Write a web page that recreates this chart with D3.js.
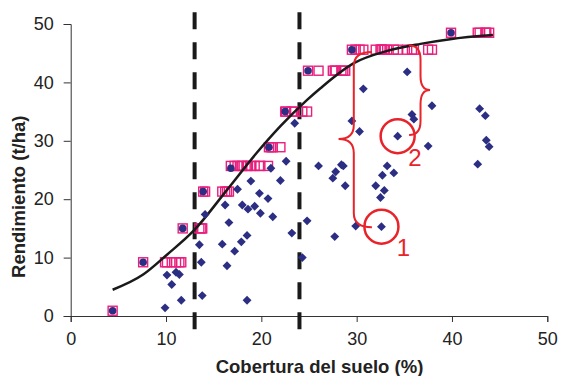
<!DOCTYPE html>
<html>
<head>
<meta charset="utf-8">
<script src="https://cdn.jsdelivr.net/npm/d3@7"></script>
<style>
  body { margin: 0; background: #fff; }
  text { font-family: Arial, "Liberation Sans", sans-serif; }
</style>
</head>
<body>
<svg id="chart"></svg>
<script>
// observed plots (diamonds)
const observed = [
  [9.9, 1.4], [10.1, 7.0], [10.6, 5.4], [11.05, 7.5], [11.4, 7.1], [11.6, 2.7],
  [13.5, 12.2], [13.7, 9.2], [13.8, 3.5], [14.1, 17.4], [16.2, 19.0], [16.6, 16.0],
  [15.9, 12.3], [16.4, 8.6], [17.2, 11.1], [17.9, 12.7], [18.5, 13.8], [17.5, 21.7],
  [18.9, 23.1], [18.0, 19.0], [18.6, 18.3], [19.3, 18.8], [19.8, 21.0], [19.9, 17.6],
  [20.7, 20.1], [21.0, 25.3], [21.2, 17.0], [22.0, 23.2], [22.6, 26.5], [18.5, 2.7],
  [23.2, 14.2], [23.5, 33.0], [24.8, 16.3], [24.3, 10.0], [26.0, 25.7], [28.4, 25.9],
  [28.6, 25.7], [27.8, 24.7], [27.5, 23.6], [28.8, 22.3], [33.2, 25.7], [32.7, 24.1],
  [33.9, 24.5], [32.0, 22.3], [32.9, 21.5], [32.5, 20.3], [29.9, 15.4], [32.6, 15.3],
  [27.7, 13.6], [42.7, 26.0], [42.9, 35.5], [43.5, 34.3], [43.6, 30.1], [43.9, 29.0],
  [35.3, 41.8], [30.7, 38.9], [37.9, 36.0], [35.8, 34.5], [36.0, 33.7], [29.5, 33.4],
  [30.3, 31.6], [34.3, 30.8], [37.5, 29.1]
];

// boundary plots (filled circles)
const boundary = [
  [4.4, 0.9], [7.6, 9.2], [11.75, 15.0], [13.9, 21.3], [16.8, 25.3],
  [20.8, 28.9], [22.5, 35.0], [24.9, 42.0], [29.5, 45.6], [39.9, 48.5]
];

// projected plots (open squares), one row per level
const projLevels = [0.9, 9.2, 15.0, 21.3, 25.7, 28.9, 35.0, 42.0, 45.6, 48.5];
const projX = [
  [4.4],
  [7.6, 9.9, 10.1, 10.6, 11.05, 11.4, 11.6],
  [11.75, 13.5, 13.7, 13.8],
  [13.9, 14.1, 15.9, 16.2, 16.4, 16.6],
  [16.8, 17.2, 17.5, 17.9, 18.0, 18.5, 18.6, 18.9, 19.3, 19.8, 19.9, 20.7],
  [20.8, 21.0, 21.2, 22.0],
  [22.5, 22.6, 23.2, 23.5, 24.3, 24.8],
  [24.9, 26.0, 27.5, 27.7, 27.8, 28.4, 28.6, 28.8],
  [29.5, 29.9, 30.3, 30.7, 32.0, 32.5, 32.6, 32.7, 32.9, 33.2, 33.9, 34.3, 35.3, 35.8, 36.0, 37.5, 37.9],
  [39.9, 42.7, 42.9, 43.5, 43.6, 43.9]
];

// boundary line
const boundaryLine = [
  [4.4, 4.5], [7.6, 7.1], [10.1, 10.5], [12.9, 14.6], [16.4, 21.6], [19.5, 27.9],
  [22.0, 32.5], [24.8, 37.0], [26.2, 39.0], [29.7, 43.3], [33.2, 45.4],
  [36.7, 46.6], [39.8, 47.4], [44.3, 48.1]
];

const vLines = [13, 24];
const xTicks = [0, 10, 20, 30, 40, 50];
const yTicks = [0, 10, 20, 30, 40, 50];

// annotations: circled points and braces (data units)
const marked = [
  { label: "1", x: 32.6, y: 15.3, lx: 34.9, ly: 10.3 },
  { label: "2", x: 34.3, y: 30.8, lx: 36.1, ly: 25.7 }
];
const braces = [
  { x: 29.7, end: 31.6, tip: 28.1, top: 45.2, bottom: 15.2, mid: 30.3 },
  { x: 36.7, end: 35.5, tip: 37.7, top: 46.3, bottom: 31.0, mid: 38.7 }
];

const width = 565, height = 376;
const navy = "#2b2e83", pink = "#ea1f7d", red = "#e8232a";

const svg = d3.select("#chart").attr("width", width).attr("height", height);

const x = d3.scaleLinear().domain([0, 50]).range([70.7, 547.3]);
const y = d3.scaleLinear().domain([0, 50]).range([316, 24]);

// axes
svg.append("g")
  .attr("transform", "translate(0," + y(0) + ")")
  .call(d3.axisBottom(x).tickValues(xTicks).tickSize(6).tickPadding(10))
  .call(g => g.selectAll("text").style("font-size", "18px").attr("fill", "#222"))
  .call(g => g.selectAll("line,path").attr("stroke", "#333"));

svg.append("g")
  .attr("transform", "translate(" + x(0) + ",0)")
  .call(d3.axisLeft(y).tickValues(yTicks).tickSize(7).tickPadding(10))
  .call(g => g.selectAll("text").style("font-size", "18px").attr("fill", "#222"))
  .call(g => g.selectAll("line,path").attr("stroke", "#333"));

// dashed verticals
svg.selectAll(".vline")
  .data(vLines)
  .enter()
  .append("line")
  .attr("x1", d => x(d)).attr("x2", d => x(d))
  .attr("y1", y(52)).attr("y2", y(-2.9))
  .attr("stroke", "#1a1a1a")
  .attr("stroke-width", 4)
  .attr("stroke-dasharray", "17,13");

// projected squares
const squares = [];
projX.forEach((row, i) => row.forEach(v => squares.push([v, projLevels[i]])));
svg.selectAll(".sq")
  .data(squares)
  .enter()
  .append("rect")
  .attr("x", d => x(d[0]) - 4.5)
  .attr("y", d => y(d[1]) - 4.5)
  .attr("width", 9).attr("height", 9)
  .attr("fill", "none")
  .attr("stroke", pink)
  .attr("stroke-width", 1.4);

// boundary line
svg.append("path")
  .datum(boundaryLine)
  .attr("d", d3.line().x(d => x(d[0])).y(d => y(d[1])).curve(d3.curveMonotoneX))
  .attr("fill", "none")
  .attr("stroke", "#1a1a1a")
  .attr("stroke-width", 2.5);

// observed diamonds
svg.selectAll(".dia")
  .data(observed)
  .enter()
  .append("path")
  .attr("d", d3.symbol(d3.symbolDiamond2, 50))
  .attr("transform", d => "translate(" + x(d[0]) + "," + y(d[1]) + ")")
  .attr("fill", navy);

// boundary circles
svg.selectAll(".dot")
  .data(boundary)
  .enter()
  .append("circle")
  .attr("cx", d => x(d[0]))
  .attr("cy", d => y(d[1]))
  .attr("r", 3.8)
  .attr("fill", navy);

// red braces
const bracePath = b => {
  const xl = x(b.x), xe = x(b.end), xt = x(b.tip);
  const yt = y(b.top), yb = y(b.bottom), ym = y(b.mid), r = 14;
  return "M" + xe + "," + yt +
    " Q" + xl + "," + yt + " " + xl + "," + (yt + r) +
    " L" + xl + "," + (ym - r) +
    " Q" + xl + "," + ym + " " + xt + "," + ym +
    " Q" + xl + "," + ym + " " + xl + "," + (ym + r) +
    " L" + xl + "," + (yb - r) +
    " Q" + xl + "," + yb + " " + xe + "," + yb;
};
svg.selectAll(".brace")
  .data(braces)
  .enter()
  .append("path")
  .attr("d", bracePath)
  .attr("fill", "none")
  .attr("stroke", red)
  .attr("stroke-width", 2);

// circled points with labels
svg.selectAll(".ring")
  .data(marked)
  .enter()
  .append("circle")
  .attr("cx", d => x(d.x))
  .attr("cy", d => y(d.y))
  .attr("r", 17)
  .attr("fill", "none")
  .attr("stroke", red)
  .attr("stroke-width", 2.5);

svg.selectAll(".lab")
  .data(marked)
  .enter()
  .append("text")
  .attr("x", d => x(d.lx))
  .attr("y", d => y(d.ly))
  .attr("text-anchor", "middle")
  .style("font-size", "24px")
  .attr("fill", red)
  .text(d => d.label);

// axis titles
svg.append("text")
  .attr("x", 319.5)
  .attr("y", 373)
  .attr("text-anchor", "middle")
  .style("font-size", "18.5px")
  .style("font-weight", "bold")
  .attr("fill", "#222")
  .text("Cobertura del suelo (%)");

svg.append("text")
  .attr("transform", "translate(25,196.7) rotate(-90)")
  .attr("text-anchor", "middle")
  .style("font-size", "18.5px")
  .style("font-weight", "bold")
  .attr("fill", "#222")
  .text("Rendimiento (t/ha)");
</script>
</body>
</html>
